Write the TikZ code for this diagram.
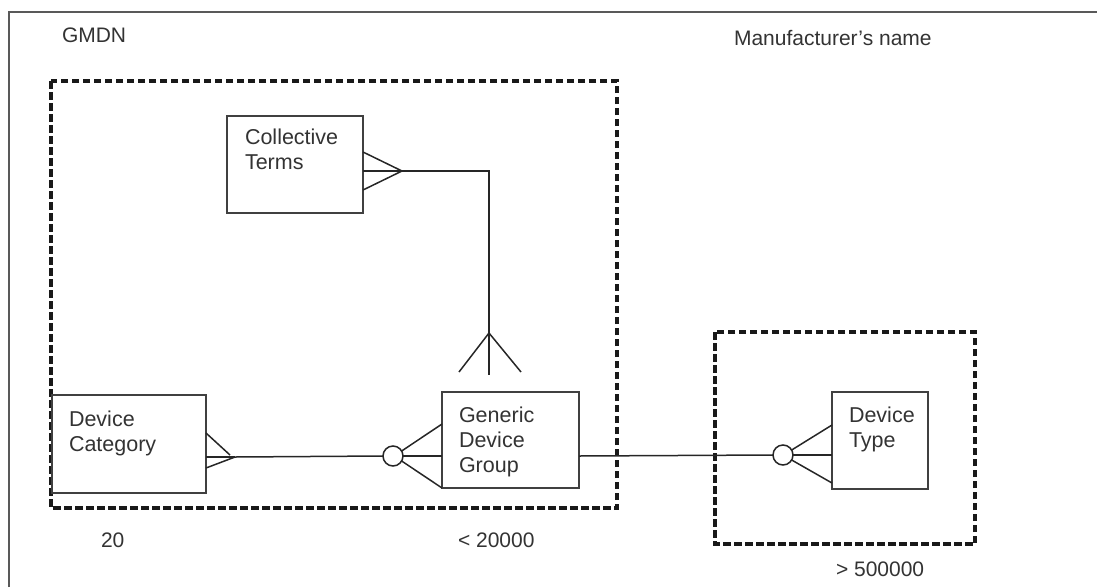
\documentclass[tikz,border=0pt]{standalone}
\usepackage{fontspec}
\setmainfont{Liberation Sans}
\begin{document}
\begin{tikzpicture}[x=1pt,y=-1pt,
  every node/.style={inner sep=0pt,outer sep=0pt},
  entity/.style={draw=black!75,line width=1.8pt,rectangle},
  etext/.style={anchor=north west,align=left,text=black!80,font=\fontsize{21.5}{25}\selectfont},
  caption/.style={anchor=west,text=black!80,font=\fontsize{21}{25}\selectfont},
  link/.style={draw=black!85,line width=1.5pt},
  zero/.style={circle,draw=black!85,line width=1.5pt,minimum size=20pt},
  group/.style={draw=black!90,line width=3.3pt,dash pattern=on 7.5pt off 3.5pt},
  frame/.style={draw=black!65,line width=2pt}]
\useasboundingbox (0,0) rectangle (1097,587);

% page frame
\draw[frame] (9,587) -- (9,12) -- (1097,12);

% scope boxes
\draw[group] (51,81) rectangle (617,508);
\draw[group] (715,332) rectangle (975,544);

% captions
\node[caption] (gmdn) at (62,35) {GMDN};
\node[caption] (mfr) at (734,38) {Manufacturer's name};
\node[caption] (n20) at (101,540) {20};
\node[caption] (n20k) at (458,540) {< 20000};
\node[caption] (n500k) at (836,569) {> 500000};

% entities
\node[entity,minimum width=136pt,minimum height=97pt] (ct) at (295,164.5) {};
\node[etext] (ctt) at (245,129) {Collective\\Terms};
\node[entity,minimum width=154pt,minimum height=98pt] (dc) at (129,444) {};
\node[etext] (dct) at (69,411) {Device\\Category};
\node[entity,minimum width=137pt,minimum height=96pt] (gdg) at (510.5,440) {};
\node[etext] (gdgt) at (459,407) {Generic\\Device\\Group};
\node[entity,minimum width=96pt,minimum height=97pt] (dt) at (880,440.5) {};
\node[etext] (dtt) at (849,407) {Device\\Type};

% optional markers
\node[zero] (gz) at (393,456) {};
\node[zero] (dz) at (783,455) {};

% crow's foot points
\coordinate (ctA) at (402,171);
\coordinate (gA) at (489,333);
\coordinate (dcA) at (235,457);

% Collective Terms -- Generic Device Group
\draw[link] (ct.east |- 0,152) -- (ctA);
\draw[link] (ct.east |- 0,171) -- (ctA);
\draw[link] (ct.east |- 0,190) -- (ctA);
\draw[link] (ctA) -| (gA);
\draw[link] (gA) -- (459,372);
\draw[link] (gA) -- (521,372);
\draw[link] (gA) -- (489,375);

% Device Category -- Generic Device Group
\draw[link] (dc.east |- 0,433) -- (230,455);
\draw[link] (dc.east |- 0,468) -- (dcA);
\draw[link] (dc.east |- 0,457) -- (dcA);
\draw[link] (dcA) -- (gz.west);
\draw[link] (gz.30) -- (gdg.west |- 0,424);
\draw[link] (gz.east) -- (gdg.west |- 0,456);
\draw[link] (gz.-30) -- (gdg.west |- 0,488);

% Generic Device Group -- Device Type
\draw[link] (gdg.east |- 0,456) -- (dz.west);
\draw[link] (dz.30) -- (dt.west |- 0,425);
\draw[link] (dz.east) -- (dt.west |- 0,455);
\draw[link] (dz.-30) -- (dt.west |- 0,483);
\end{tikzpicture}
\end{document}
